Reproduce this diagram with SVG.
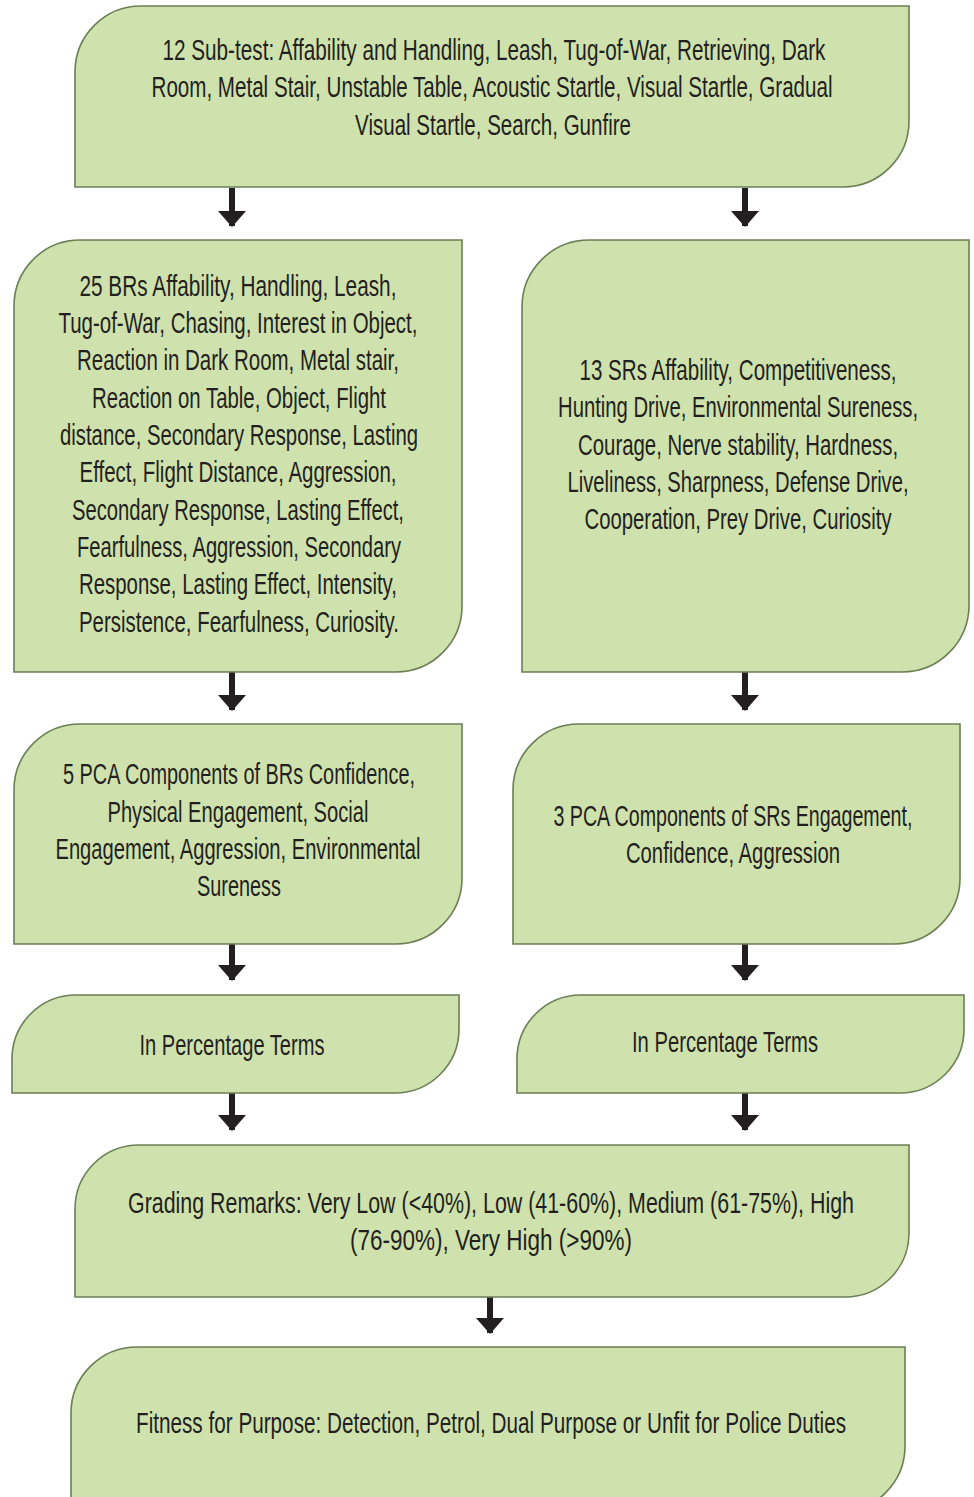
<svg xmlns="http://www.w3.org/2000/svg" width="974" height="1497" viewBox="0 0 974 1497">
<style>
.box{fill:#cfe2ad;stroke:#6b7f55;stroke-width:1.6}
.t{font-family:"Liberation Sans Narrow","Liberation Sans",Arial,sans-serif;font-size:30px;fill:#231f20;text-anchor:middle}
.arr{stroke:#231f20;stroke-width:6;fill:none}
</style>
<defs>
<marker id="ah" markerUnits="userSpaceOnUse" viewBox="0 0 16 28" markerWidth="16" markerHeight="28" refX="15" refY="14" orient="auto">
<path d="M0,0 L16,14 L0,28 Z" fill="#231f20"/>
</marker>
</defs>
<rect width="974" height="1497" fill="#ffffff"/>

<g id="connectors">
<line class="arr" x1="232" y1="188" x2="232" y2="226" marker-end="url(#ah)"/>
<line class="arr" x1="745" y1="188" x2="745" y2="226" marker-end="url(#ah)"/>
<line class="arr" x1="232" y1="672" x2="232" y2="710" marker-end="url(#ah)"/>
<line class="arr" x1="745" y1="672" x2="745" y2="710" marker-end="url(#ah)"/>
<line class="arr" x1="232" y1="944" x2="232" y2="980" marker-end="url(#ah)"/>
<line class="arr" x1="745" y1="944" x2="745" y2="980" marker-end="url(#ah)"/>
<line class="arr" x1="232" y1="1093" x2="232" y2="1130" marker-end="url(#ah)"/>
<line class="arr" x1="745" y1="1093" x2="745" y2="1130" marker-end="url(#ah)"/>
<line class="arr" x1="490" y1="1297" x2="490" y2="1333" marker-end="url(#ah)"/>
</g>

<g id="subtests">
<path class="box" d="M141,6 H909 V121 A66,66 0 0 1 843,187 H75 V72 A66,66 0 0 1 141,6 Z"/>
<g transform="scale(0.78 1)">
<text class="t" x="633.3" y="60" textLength="850" lengthAdjust="spacingAndGlyphs">12 Sub-test: Affability and Handling, Leash, Tug-of-War, Retrieving, Dark</text>
<text class="t" x="630.8" y="97" textLength="873" lengthAdjust="spacingAndGlyphs">Room, Metal Stair, Unstable Table, Acoustic Startle, Visual Startle, Gradual</text>
<text class="t" x="632.1" y="135" textLength="353.8" lengthAdjust="spacingAndGlyphs">Visual Startle, Search, Gunfire</text>
</g>
</g>

<g id="brs">
<path class="box" d="M80,240 H462 V606 A66,66 0 0 1 396,672 H14 V306 A66,66 0 0 1 80,240 Z"/>
<g transform="scale(0.78 1)">
<text class="t" x="305.1" y="296" textLength="406.4" lengthAdjust="spacingAndGlyphs">25 BRs Affability, Handling, Leash,</text>
<text class="t" x="305.1" y="333" textLength="460.3" lengthAdjust="spacingAndGlyphs">Tug-of-War, Chasing, Interest in Object,</text>
<text class="t" x="305.1" y="370" textLength="412.8" lengthAdjust="spacingAndGlyphs">Reaction in Dark Room, Metal stair,</text>
<text class="t" x="306.4" y="408" textLength="376.9" lengthAdjust="spacingAndGlyphs">Reaction on Table, Object, Flight</text>
<text class="t" x="306.4" y="445" textLength="459" lengthAdjust="spacingAndGlyphs">distance, Secondary Response, Lasting</text>
<text class="t" x="305.1" y="482" textLength="406.4" lengthAdjust="spacingAndGlyphs">Effect, Flight Distance, Aggression,</text>
<text class="t" x="305.1" y="520" textLength="425.6" lengthAdjust="spacingAndGlyphs">Secondary Response, Lasting Effect,</text>
<text class="t" x="306.4" y="557" textLength="415.4" lengthAdjust="spacingAndGlyphs">Fearfulness, Aggression, Secondary</text>
<text class="t" x="305.1" y="594" textLength="407.7" lengthAdjust="spacingAndGlyphs">Response, Lasting Effect, Intensity,</text>
<text class="t" x="306.4" y="632" textLength="410.3" lengthAdjust="spacingAndGlyphs">Persistence, Fearfulness, Curiosity.</text>
</g>
</g>

<g id="srs">
<path class="box" d="M589,240 H969 V605 A67,67 0 0 1 902,672 H522 V307 A67,67 0 0 1 589,240 Z"/>
<g transform="scale(0.78 1)">
<text class="t" x="946.2" y="380" textLength="406.4" lengthAdjust="spacingAndGlyphs">13 SRs Affability, Competitiveness,</text>
<text class="t" x="946.2" y="417" textLength="461.5" lengthAdjust="spacingAndGlyphs">Hunting Drive, Environmental Sureness,</text>
<text class="t" x="946.2" y="455" textLength="410.3" lengthAdjust="spacingAndGlyphs">Courage, Nerve stability, Hardness,</text>
<text class="t" x="946.2" y="492" textLength="437.2" lengthAdjust="spacingAndGlyphs">Liveliness, Sharpness, Defense Drive,</text>
<text class="t" x="946.2" y="529" textLength="393.6" lengthAdjust="spacingAndGlyphs">Cooperation, Prey Drive, Curiosity</text>
</g>
</g>

<g id="pca-brs">
<path class="box" d="M80,724 H462 V878 A66,66 0 0 1 396,944 H14 V790 A66,66 0 0 1 80,724 Z"/>
<g transform="scale(0.78 1)">
<text class="t" x="306.4" y="784" textLength="451.3" lengthAdjust="spacingAndGlyphs">5 PCA Components of BRs Confidence,</text>
<text class="t" x="305.1" y="822" textLength="334.6" lengthAdjust="spacingAndGlyphs">Physical Engagement, Social</text>
<text class="t" x="305.1" y="859" textLength="468" lengthAdjust="spacingAndGlyphs">Engagement, Aggression, Environmental</text>
<text class="t" x="306.4" y="896" textLength="107.7" lengthAdjust="spacingAndGlyphs">Sureness</text>
</g>
</g>

<g id="pca-srs">
<path class="box" d="M579,724 H960 V878 A66,66 0 0 1 894,944 H513 V790 A66,66 0 0 1 579,724 Z"/>
<g transform="scale(0.74 1)">
<text class="t" x="990.5" y="826" textLength="485.1" lengthAdjust="spacingAndGlyphs">3 PCA Components of SRs Engagement,</text>
<text class="t" x="990.5" y="863" textLength="289.2" lengthAdjust="spacingAndGlyphs">Confidence, Aggression</text>
</g>
</g>

<g id="pct-left">
<path class="box" d="M76,995 H459 V1029 A64,64 0 0 1 395,1093 H12 V1059 A64,64 0 0 1 76,995 Z"/>
<g transform="scale(0.78 1)">
<text class="t" x="297.4" y="1055" textLength="237.2" lengthAdjust="spacingAndGlyphs">In Percentage Terms</text>
</g>
</g>

<g id="pct-right">
<path class="box" d="M581,995 H964 V1029 A64,64 0 0 1 900,1093 H517 V1059 A64,64 0 0 1 581,995 Z"/>
<g transform="scale(0.78 1)">
<text class="t" x="929.5" y="1052" textLength="238.5" lengthAdjust="spacingAndGlyphs">In Percentage Terms</text>
</g>
</g>

<g id="grading">
<path class="box" d="M139,1145 H909 V1233 A64,64 0 0 1 845,1297 H75 V1209 A64,64 0 0 1 139,1145 Z"/>
<g transform="scale(0.78 1)">
<text class="t" x="629.5" y="1213" textLength="930.8" lengthAdjust="spacingAndGlyphs">Grading Remarks: Very Low (&lt;40%), Low (41-60%), Medium (61-75%), High</text>
<text class="t" x="629.5" y="1250" textLength="361.5" lengthAdjust="spacingAndGlyphs">(76-90%), Very High (&gt;90%)</text>
</g>
</g>

<g id="fitness">
<path class="box" d="M137,1347 H905 V1446 A66,66 0 0 1 839,1512 H71 V1413 A66,66 0 0 1 137,1347 Z"/>
<g transform="scale(0.78 1)">
<text class="t" x="629.5" y="1433" textLength="910.3" lengthAdjust="spacingAndGlyphs">Fitness for Purpose: Detection, Petrol, Dual Purpose or Unfit for Police Duties</text>
</g>
</g>
</svg>
